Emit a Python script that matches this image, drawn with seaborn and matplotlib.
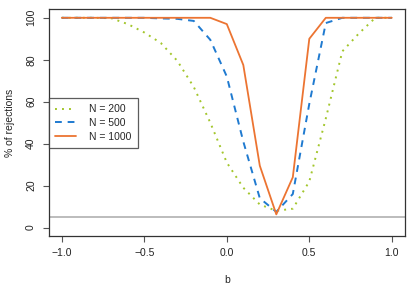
import numpy as np
import pandas as pd
import seaborn as sns
import matplotlib
matplotlib.use("Agg")
import matplotlib.pyplot as plt

b_vals = [-1.0, -0.9, -0.8, -0.7, -0.6, -0.5, -0.4, -0.3, -0.2, -0.1, 0.0,
          0.1, 0.2, 0.3, 0.4, 0.5, 0.6, 0.7, 0.8, 0.9, 1.0]
rej_200 = [100, 100, 100, 99.8, 97, 93, 88, 79.5, 67, 50, 31,
           19, 11, 8, 9, 22, 52, 84, 92.5, 100, 100]
rej_500 = [100, 100, 100, 100, 100, 100, 99.7, 99.5, 98.5, 89.5, 72,
           41, 14, 7.5, 16, 59, 97.5, 100, 100, 100, 100]
rej_1000 = [100, 100, 100, 100, 100, 100, 100, 100, 100, 100, 97,
            77.5, 29.5, 6.3, 24, 90, 100, 100, 100, 100, 100]
sizes = ["N = 200", "N = 500", "N = 1000"]
colors = ["#a3c62c", "#1f7ad0", "#ec7432"]
styles = [(0, (1, 2.6)), (0, (3.5, 3)), "-"]
alpha_level = 5

df = pd.DataFrame({
    "b": b_vals * 3,
    "rej": rej_200 + rej_500 + rej_1000,
    "N": np.repeat(sizes, len(b_vals)),
})

sns.set_style("ticks")
plt.rcParams["font.family"] = ["Liberation Sans", "DejaVu Sans"]

fig = plt.figure(figsize=(4.19, 2.85), dpi=100)
ax = fig.add_axes([0.116, 0.172, 0.8506, 0.795])

ax.axhline(alpha_level, color="#aaaaaa", lw=1.1, zorder=1)
for name, col, ls in zip(sizes, colors, styles):
    sub = df[df["N"] == name]
    sns.lineplot(data=sub, x="b", y="rej", ax=ax, color=col, linestyle=ls,
                 lw=1.4 if ls != "-" else 1.3, label=name, zorder=3)

ax.set_xlim(-1.08, 1.08)
ax.set_ylim(-4, 104)
ax.set_xticks([-1.0, -0.5, 0.0, 0.5, 1.0])
ax.set_xticklabels(["\u22121.0", "\u22120.5", "0.0", "0.5", "1.0"])
ax.set_yticks([0, 20, 40, 60, 80, 100])
ax.tick_params(axis="both", direction="out", length=4, width=0.8,
               color="#555555", labelsize=7.5, labelcolor="#222222", pad=5,
               bottom=True, left=True)
for lab in ax.get_yticklabels():
    lab.set_rotation(90)
    lab.set_va("center")
ax.set_xlabel("b", fontsize=7.5, labelpad=12)
ax.set_ylabel("% of rejections", fontsize=7.5, labelpad=8)
for sp in ax.spines.values():
    sp.set_visible(True)
    sp.set_color("#333333")
    sp.set_linewidth(0.9)

leg = ax.legend(loc="upper left", bbox_to_anchor=(0, 0.609), borderaxespad=0,
                fontsize=7.5, frameon=True, fancybox=False, handlelength=2.0,
                handletextpad=1.3, labelspacing=0.35, borderpad=0.6)
leg.get_frame().set_edgecolor("#333333")
leg.get_frame().set_linewidth(0.9)

fig.savefig("out.png", dpi=100)
